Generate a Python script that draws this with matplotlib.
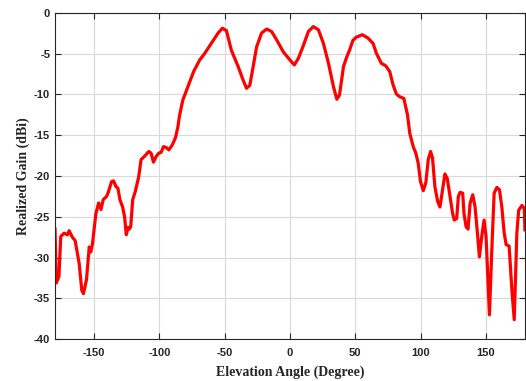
import matplotlib
matplotlib.use("Agg")
import matplotlib.pyplot as plt
import numpy as np

plt.rcParams['axes.unicode_minus'] = False

# elevation angle (deg) and realized gain (dBi)
angle = [-180, -179, -177, -175.6, -173, -170.5, -169.2, -166.7, -164.6, -161.5,
         -159.5, -158.2, -155.9, -153.8, -152.6, -151.3, -148.7, -146.6, -144.8, -143.1,
         -140.5, -139, -136.7, -135.1, -133.3, -131.8, -130.3, -128.2, -126.7, -125.4,
         -124.1, -123.1, -122, -120.5, -118.5, -115.9, -114.1, -111.5, -108.2, -106.4,
         -104.6, -102.5, -100.5, -98.7, -96.9, -94.9, -92.8, -90.2, -87.7, -85.9,
         -84.6, -82.1, -78.2, -73.8, -69.2, -65.4, -60.3, -55.1, -51.8, -48.7,
         -44.9, -39.7, -35.9, -33.3, -30.8, -28.2, -25.6, -21.8, -17.9, -14.1,
         -10.3, -5.1, 0, 3.3, 6.4, 10.3, 14.1, 17.9, 21.8, 25.6,
         29.5, 33.3, 35.9, 37.9, 41, 43.3, 45.6, 48.2, 50.8, 55.4,
         59.7, 63.6, 66.2, 70, 73.3, 76.4, 79, 81.5, 84.1, 87.2,
         90, 91.8, 94.4, 96.4, 98.2, 100, 102.1, 104.1, 105.9, 107.7,
         109.2, 111, 113.1, 114.9, 116.9, 118.7, 120.5, 122.6, 124.6, 125.9,
         127.7, 129, 130.3, 132.3, 133.3, 134.9, 136.4, 138, 140, 141.8,
         143.6, 145.1, 146.9, 148.7, 150.2, 152.8, 154.6, 156.4, 158.5, 160.5,
         162.3, 164.1, 165.6, 167.9, 170, 171.8, 173.8, 175.2, 177.7, 179.5, 180]
gain = [-26.5, -33.1, -32.3, -27.4, -27.0, -27.2, -26.7, -27.5, -27.9, -30.7,
        -34.0, -34.4, -32.7, -28.7, -29.3, -28.3, -24.6, -23.3, -24.1, -22.9,
        -22.5, -21.9, -20.7, -20.6, -21.3, -21.5, -22.9, -23.8, -25.0, -27.2,
        -26.3, -26.5, -26.2, -22.9, -21.9, -20.1, -18.0, -17.6, -17.0, -17.2,
        -18.3, -17.6, -17.2, -17.1, -16.4, -16.5, -16.8, -16.2, -15.3, -14.0,
        -12.6, -10.7, -9.06, -7.2, -5.8, -5.0, -3.75, -2.5, -1.9, -2.2,
        -4.6, -6.6, -8.25, -9.26, -8.9, -6.6, -4.2, -2.5, -2.0, -2.3,
        -3.3, -4.8, -5.8, -6.4, -5.6, -4.0, -2.3, -1.7, -2.1, -3.75,
        -6.2, -9.06, -10.6, -10.1, -6.6, -5.5, -4.6, -3.4, -3.0, -2.7,
        -3.1, -3.75, -4.97, -6.2, -6.5, -7.2, -8.85, -9.96, -10.3, -10.5,
        -12.5, -14.8, -16.4, -17.2, -18.4, -20.7, -21.8, -20.8, -18.0, -17.0,
        -17.8, -21.3, -23.1, -23.8, -21.7, -19.75, -20.3, -22.5, -24.6, -25.4,
        -25.2, -22.5, -22.0, -22.1, -24.6, -26.2, -26.5, -23.3, -22.3, -23.8,
        -27.0, -29.9, -27.4, -25.4, -27.4, -37.0, -29.1, -22.1, -21.4, -21.7,
        -23.8, -27.0, -28.4, -28.6, -34.0, -37.6, -27.0, -24.2, -23.6, -24.0, -26.6]

fig = plt.figure(figsize=(5.26, 3.81), dpi=100)
ax = fig.add_axes([0.1046, 0.1094, 0.8934, 0.8573])

ax.plot(angle, gain, color='#ff0000', linewidth=2.3)

ax.set_xlim(-180, 180)
ax.set_ylim(-40, 0)
ax.set_xticks([-150, -100, -50, 0, 50, 100, 150])
ax.set_yticks(np.arange(-40, 1, 5))
ax.grid(True, color='#d9d9d9', linewidth=0.8)
ax.set_axisbelow(True)

ax.tick_params(direction='in', top=True, right=True, length=4, width=0.8,
               labelsize=8, colors='#262626')
ax.tick_params(axis='x', pad=6.5)
for lab in ax.get_xticklabels() + ax.get_yticklabels():
    lab.set_fontfamily('Liberation Sans')
    lab.set_fontweight('bold')
for s in ax.spines.values():
    s.set_color('#262626')
    s.set_linewidth(0.8)

ax.set_xlabel('Elevation Angle (Degree)', fontfamily='Liberation Serif',
              fontweight='bold', fontsize=10, color='#262626', labelpad=5)
ax.set_ylabel('Realized Gain (dBi)', fontfamily='Liberation Serif',
              fontweight='bold', fontsize=10, color='#262626', labelpad=3)

fig.savefig('out.png', dpi=100)
